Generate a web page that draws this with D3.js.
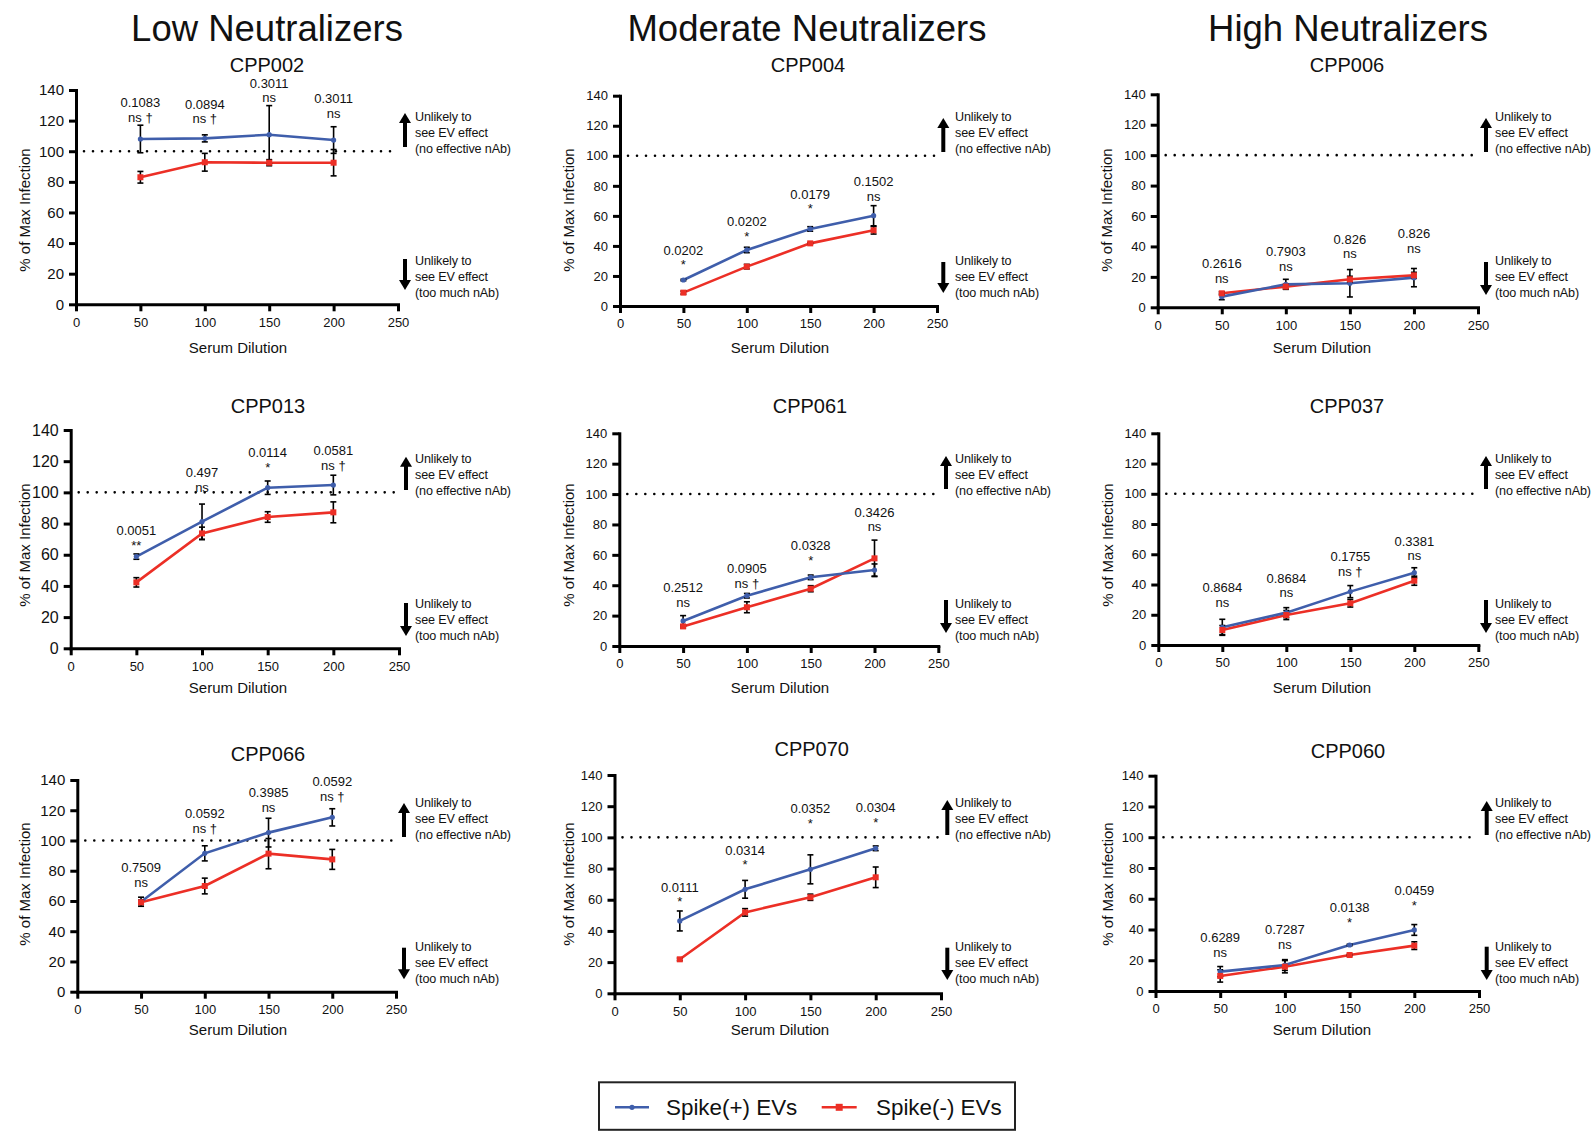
<!DOCTYPE html>
<html><head><meta charset="utf-8">
<script src="https://cdn.jsdelivr.net/npm/d3@7"></script>
<style>
body{margin:0;background:#fff}
svg text{font-family:"Liberation Sans",Arial,Helvetica,sans-serif;fill:#111}
</style>
</head><body>
<svg id="chart" width="1595" height="1132"></svg>
<script>
// ---------------- DATA ----------------
const groupTitles = ["Low Neutralizers", "Moderate Neutralizers", "High Neutralizers"];
const panelNames = ["CPP002","CPP004","CPP006","CPP013","CPP061","CPP037","CPP066","CPP070","CPP060"];
const dilutions = [50, 100, 150, 200];
const xTicks = [0, 50, 100, 150, 200, 250];
const yTicks = [0, 20, 40, 60, 80, 100, 120, 140];
const referenceLevel = 100;
const seriesNames = ["Spike(+) EVs", "Spike(-) EVs"];
const upperNote = ["Unlikely to", "see EV effect", "(no effective nAb)"];
const lowerNote = ["Unlikely to", "see EV effect", "(too much nAb)"];
const xTitle = "Serum Dilution";
const yTitle = "% of Max Infection";

const spikePosMean = [
  [108.0,108.4,110.8,107.3],
  [17.3,37.3,51.3,60.1],
  [7.0,15.1,15.8,19.5],
  [58.8,81.2,103.0,104.7],
  [16.5,33.1,45.2,50.0],
  [11.7,21.4,35.3,47.8],
  [59.5,91.5,105.2,115.3],
  [46.4,66.7,79.5,93.0],
  [12.6,16.9,29.9,39.7]
];
const spikePosErr = [
  [9.0,2.3,19.0,8.7],
  [0.5,1.8,1.5,6.7],
  [2.0,3.3,9.0,6.0],
  [1.7,11.3,4.3,6.3],
  [3.5,1.5,1.5,4.0],
  [5.3,3.3,4.0,3.3],
  [3.0,5.0,9.5,5.7],
  [6.4,5.7,9.3,1.5],
  [3.3,3.5,0.5,3.5]
];
const spikeNegMean = [
  [83.0,92.8,92.5,92.5],
  [8.9,26.2,41.7,50.4],
  [9.2,13.6,18.4,21.0],
  [42.3,73.7,84.2,87.2],
  [12.9,25.5,37.7,57.7],
  [9.9,19.8,27.6,42.5],
  [59.1,69.9,91.3,87.5],
  [21.8,51.9,61.6,74.4],
  [9.8,15.8,23.4,29.5]
];
const spikeNegErr = [
  [3.8,5.8,2.0,8.6],
  [1.0,1.5,0.5,2.5],
  [1.0,1.5,2.0,2.0],
  [3.0,4.0,3.4,6.7],
  [1.0,3.6,2.0,12.0],
  [3.0,3.0,2.5,3.0],
  [1.5,5.2,10.0,6.6],
  [0.8,2.4,2.0,6.6],
  [4.0,4.0,0.5,2.5]
];
const pValues = [
  ["0.1083","0.0894","0.3011","0.3011"],
  ["0.0202","0.0202","0.0179","0.1502"],
  ["0.2616","0.7903","0.826","0.826"],
  ["0.0051","0.497","0.0114","0.0581"],
  ["0.2512","0.0905","0.0328","0.3426"],
  ["0.8684","0.8684","0.1755","0.3381"],
  ["0.7509","0.0592","0.3985","0.0592"],
  ["0.0111","0.0314","0.0352","0.0304"],
  ["0.6289","0.7287","0.0138","0.0459"]
];
const sigLabels = [
  ["ns †","ns †","ns","ns"],
  ["*","*","*","ns"],
  ["ns","ns","ns","ns"],
  ["**","ns","*","ns †"],
  ["ns","ns †","*","ns"],
  ["ns","ns","ns †","ns"],
  ["ns","ns †","ns","ns †"],
  ["*","*","*","*"],
  ["ns","ns","*","*"]
];
// annotation anchor (data units on the y scale)
const annotY = [
  [131.7,130.9,144.4,134.3],
  [37.3,56.1,74.6,82.8],
  [28.9,36.6,44.7,48.6],
  [75.4,112.8,125.5,126.8],
  [38.6,51.1,66.0,88.0],
  [38.1,44.1,58.4,68.8],
  [82.2,117.9,131.6,138.9],
  [68.0,91.9,118.6,119.0],
  [34.9,40.1,54.2,65.2]
];

// ---------------- LAYOUT ----------------
const layout = [
  {l:76,   r:398,   t:90,    b:304.3, tx:267,  ty:65,    yf:15, ax:405,   atx:415,  ylx:25,   yly:210, xlx:238,  xly:348,  up:[113,147],   dn:[259,290],    ut:116.7, dt:260.7},
  {l:620,  r:937,   t:95.7,  b:306,   tx:808,  ty:65,    yf:13, ax:943.3, atx:955,  ylx:569,  yly:210, xlx:780,  xly:348,  up:[118,152],   dn:[262,293],    ut:116.7, dt:260.7},
  {l:1157.7,r:1478, t:94.3,  b:307.3, tx:1347, ty:65,    yf:13, ax:1486,  atx:1495, ylx:1107, yly:210, xlx:1322, xly:348,  up:[118,152],   dn:[262,295],    ut:116.7, dt:260.7},
  {l:70.7, r:399,   t:430,   b:648.3, tx:268,  ty:405.7, yf:16, ax:406,   atx:415,  ylx:25,   yly:545, xlx:238,  xly:688,  up:[456.7,490], dn:[603,636],    ut:459,   dt:603.3},
  {l:619.3,r:938.3, t:433.3, b:646,   tx:810,  ty:405.7, yf:13, ax:946,   atx:955,  ylx:569,  yly:545, xlx:780,  xly:688,  up:[456,489],   dn:[600,633],    ut:459,   dt:603.3},
  {l:1158.3,r:1478.3,t:433.3,b:645,   tx:1347, ty:405.7, yf:13, ax:1486,  atx:1495, ylx:1108, yly:545, xlx:1322, xly:688,  up:[456,489],   dn:[600,633],    ut:459,   dt:603.3},
  {l:77.3, r:396,   t:780,   b:991.7, tx:268,  ty:753.3, yf:15, ax:404,   atx:415,  ylx:25,   yly:884, xlx:238,  xly:1030, up:[803,837],   dn:[947.7,979.3],ut:802.7, dt:946.7},
  {l:614.5,r:941,   t:775,   b:993.3, tx:811.7,ty:748.3, yf:13, ax:947.3, atx:955,  ylx:569,  yly:884, xlx:780,  xly:1030, up:[800,835],   dn:[947.7,980],  ut:802.7, dt:946.7},
  {l:1155.5,r:1479, t:775.7, b:991,   tx:1348, ty:750.7, yf:13, ax:1486.7,atx:1495, ylx:1108, yly:884, xlx:1322, xly:1030, up:[801,835],   dn:[946.7,980],  ut:802.7, dt:946.7}
];
const groupTitleX = [267, 807, 1348];
const BLUE = "#3f5eab", RED = "#ec2f26";

const svg = d3.select("#chart");

// group titles
svg.selectAll("text.group").data(groupTitles).join("text")
  .attr("class","group").attr("x",(d,i)=>groupTitleX[i]).attr("y",40.7)
  .attr("text-anchor","middle").attr("font-size",36.5).text(d=>d);

function arrow(g, x, y1, y2, dir) {
  // dir: -1 up, +1 down
  const tip = dir < 0 ? y1 : y2, tail = dir < 0 ? y2 : y1;
  const hl = 10, hw = 6;
  g.append("line").attr("x1",x).attr("x2",x).attr("y1",tail).attr("y2",tip - dir*hl+dir*1)
    .attr("stroke","#000").attr("stroke-width",4);
  g.append("path").attr("d",`M${x},${tip} L${x-hw},${tip-dir*hl} L${x+hw},${tip-dir*hl} Z`).attr("fill","#000");
}

panelNames.forEach((name, i) => {
  const L = layout[i];
  const g = svg.append("g");
  const x = d3.scaleLinear().domain([0,250]).range([L.l, L.r]);
  const y = d3.scaleLinear().domain([0,140]).range([L.b, L.t]);

  // title
  g.append("text").attr("x",L.tx).attr("y",L.ty).attr("dy","0.36em")
    .attr("text-anchor","middle").attr("font-size",20).text(name);

  // reference dotted line
  g.append("line").attr("x1",L.l+8).attr("x2",L.r-2)
    .attr("y1",y(referenceLevel)).attr("y2",y(referenceLevel))
    .attr("stroke","#000").attr("stroke-width",2.6)
    .attr("stroke-linecap","round").attr("stroke-dasharray","0 9");

  // axes
  const gx = g.append("g").attr("transform",`translate(0,${L.b})`)
    .call(d3.axisBottom(x).tickValues(xTicks).tickSize(7).tickPadding(6).tickSizeOuter(0));
  gx.attr("font-family",null).attr("font-size",13);
  gx.select(".domain").attr("stroke","#000").attr("stroke-width",3).attr("stroke-linecap","square");
  gx.selectAll(".tick line").attr("stroke","#000").attr("stroke-width",3);
  gx.selectAll(".tick text").attr("fill","#111");

  const gy = g.append("g").attr("transform",`translate(${L.l},0)`)
    .call(d3.axisLeft(y).tickValues(yTicks).tickSize(7).tickPadding(5).tickSizeOuter(0));
  gy.attr("font-family",null).attr("font-size",L.yf);
  gy.select(".domain").attr("stroke","#000").attr("stroke-width",3).attr("stroke-linecap","square");
  gy.selectAll(".tick line").attr("stroke","#000").attr("stroke-width",3);
  gy.selectAll(".tick text").attr("fill","#111");

  // axis titles
  g.append("text").attr("x",L.xlx).attr("y",L.xly).attr("dy","0.35em")
    .attr("text-anchor","middle").attr("font-size",15).text(xTitle);
  g.append("text").attr("transform",`translate(${L.ylx},${L.yly}) rotate(-90)`).attr("dy","0.35em")
    .attr("text-anchor","middle").attr("font-size",15).text(yTitle);

  const series = [
    {mean: spikePosMean[i], err: spikePosErr[i], color: BLUE, marker: "circle"},
    {mean: spikeNegMean[i], err: spikeNegErr[i], color: RED, marker: "square"}
  ];
  const line = d3.line().x((d,j)=>x(dilutions[j])).y(d=>y(d));
  [series[1], series[0]].forEach(s => {
    g.append("path").attr("d", line(s.mean)).attr("fill","none")
      .attr("stroke", s.color).attr("stroke-width",2.6);
  });
  // error bars
  series.forEach(s => {
    s.mean.forEach((m,j) => {
      const cx = x(dilutions[j]);
      const y1 = y(m + s.err[j]), y2 = y(m - s.err[j]);
      const eg = g.append("g").attr("stroke","#000").attr("stroke-width",1.6);
      eg.append("line").attr("x1",cx).attr("x2",cx).attr("y1",y1).attr("y2",y2);
      eg.append("line").attr("x1",cx-3).attr("x2",cx+3).attr("y1",y1).attr("y2",y1);
      eg.append("line").attr("x1",cx-3).attr("x2",cx+3).attr("y1",y2).attr("y2",y2);
    });
  });
  // markers
  series.forEach(s => {
    s.mean.forEach((m,j) => {
      const cx = x(dilutions[j]), cy = y(m);
      if (s.marker === "circle") g.append("circle").attr("cx",cx).attr("cy",cy).attr("r",2.6).attr("fill",s.color);
      else g.append("rect").attr("x",cx-3).attr("y",cy-3).attr("width",6).attr("height",6).attr("fill",s.color);
    });
  });

  // annotations
  dilutions.forEach((dv,j) => {
    const ax = x(dv), ay = y(annotY[i][j]);
    g.append("text").attr("x",ax).attr("y",ay).attr("dy","0.36em")
      .attr("text-anchor","middle").attr("font-size",13).text(pValues[i][j]);
    g.append("text").attr("x",ax).attr("y",ay+14.5).attr("dy","0.36em")
      .attr("text-anchor","middle").attr("font-size",13).text(sigLabels[i][j]);
  });

  // side notes with arrows
  arrow(g, L.ax, L.up[0], L.up[1], -1);
  arrow(g, L.ax, L.dn[0], L.dn[1], 1);
  upperNote.forEach((t,k) => g.append("text").attr("x",L.atx).attr("y",L.ut+k*16).attr("dy","0.35em")
    .attr("font-size",12.6).attr("letter-spacing","-0.15").text(t));
  lowerNote.forEach((t,k) => g.append("text").attr("x",L.atx).attr("y",L.dt+k*16).attr("dy","0.35em")
    .attr("font-size",12.6).attr("letter-spacing","-0.15").text(t));
});

// legend
const lg = svg.append("g");
lg.append("rect").attr("x",599).attr("y",1082.3).attr("width",416).attr("height",47.5)
  .attr("fill","#fff").attr("stroke","#222").attr("stroke-width",2);
const legendItems = [
  {name: seriesNames[0], color: BLUE, marker:"circle", x1:615, x2:649, tx:666},
  {name: seriesNames[1], color: RED, marker:"square", x1:821.7, x2:856.7, tx:876}
];
legendItems.forEach(it => {
  const ly = 1107.3, mx = (it.x1+it.x2)/2;
  lg.append("line").attr("x1",it.x1).attr("x2",it.x2).attr("y1",ly).attr("y2",ly)
    .attr("stroke",it.color).attr("stroke-width",2.6);
  if (it.marker === "circle") lg.append("circle").attr("cx",mx).attr("cy",ly).attr("r",2.6).attr("fill",it.color);
  else lg.append("rect").attr("x",mx-3.5).attr("y",ly-3.5).attr("width",7).attr("height",7).attr("fill",it.color);
  lg.append("text").attr("x",it.tx).attr("y",ly).attr("dy","0.35em").attr("font-size",22.4).text(it.name);
});
</script>
</body></html>
